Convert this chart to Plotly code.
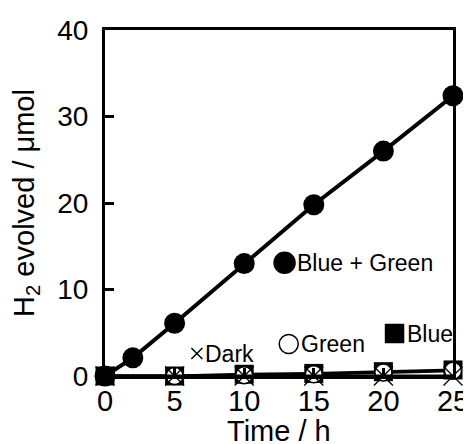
import plotly.graph_objects as go

time_h = [0, 5, 10, 15, 20, 25]
time_bg = [0, 2, 5, 10, 15, 20, 25]
h2_blue_green = [0, 2.1, 6.1, 13.0, 19.8, 26.0, 32.4]
h2_blue = [0, 0, 0.2, 0.3, 0.5, 0.7]
h2_green = [0, 0, 0.1, 0.2, 0.4, 0.6]
h2_dark = [0, 0, 0, 0, 0, 0]

x_ticks = [0, 5, 10, 15, 20, 25]
y_ticks = [0, 10, 20, 30, 40]

# legend keys (label positions in data units)
key_labels = ["Blue + Green", "Green", "Blue", "Dark"]
key_x = [12.9, 13.2, 20.8, 6.6]
key_y = [13.1, 3.7, 4.9, 2.6]
key_symbols = ["circle", "circle", "square", "x-thin-open"]

FONT = "Liberation Sans, Arial, sans-serif"
fig = go.Figure()

fig.add_trace(go.Scatter(x=time_h, y=h2_blue, mode="lines+markers",
                         line=dict(color="black", width=3),
                         marker=dict(symbol="square", size=19, color="black"),
                         cliponaxis=False, showlegend=False))
fig.add_trace(go.Scatter(x=time_h, y=h2_green, mode="lines+markers",
                         line=dict(color="black", width=3),
                         marker=dict(symbol="circle", size=17, color="white",
                                     line=dict(color="black", width=1.5)),
                         cliponaxis=False, showlegend=False))
fig.add_trace(go.Scatter(x=time_h, y=h2_dark, mode="lines+markers",
                         line=dict(color="black", width=3),
                         marker=dict(symbol="x-thin-open", size=19,
                                     line=dict(color="black", width=1.3)),
                         cliponaxis=False, showlegend=False))
fig.add_trace(go.Scatter(x=time_bg, y=h2_blue_green, mode="lines+markers",
                         line=dict(color="black", width=4),
                         marker=dict(symbol="circle", size=21, color="black"),
                         cliponaxis=False, showlegend=False))

# key markers
key_marker_colors = ["black", "white", "black", "black"]
key_sizes = [21, 19, 18, 11]
for lab, kx, ky, ks, kc, kz in zip(key_labels, key_x, key_y, key_symbols,
                                   key_marker_colors, key_sizes):
    fig.add_trace(go.Scatter(x=[kx], y=[ky], mode="markers",
                             marker=dict(symbol=ks, size=kz, color=kc,
                                         line=dict(color="black", width=1.5)),
                             cliponaxis=False, showlegend=False, hoverinfo="skip"))
    fig.add_annotation(x=kx, y=ky, text=lab, showarrow=False, xanchor="left",
                       yanchor="middle", xshift=10 if ks != "x-thin-open" else 6,
                       font=dict(family=FONT, size=23, color="black"))

fig.update_xaxes(range=[0, 25], tickvals=x_ticks, showline=True, linewidth=3,
                 linecolor="black", mirror=True, ticks="inside", ticklen=8,
                 tickwidth=3, tickcolor="black", showgrid=False, zeroline=False,
                 tickfont=dict(family=FONT, size=29, color="black"),
                 ticklabelstandoff=-3, automargin=False)
fig.update_yaxes(range=[0, 40], tickvals=y_ticks, showline=True, linewidth=3,
                 linecolor="black", mirror=True, ticks="inside", ticklen=9,
                 tickwidth=3, tickcolor="black", showgrid=False, zeroline=False,
                 tickfont=dict(family=FONT, size=28, color="black"),
                 ticklabelstandoff=8, automargin=False,
                 title=dict(text="H<sub>2</sub> evolved / μmol", standoff=17,
                            font=dict(family=FONT, size=29, color="black")))

fig.add_annotation(text="Time / h", x=0.5, xref="paper", y=0, yref="paper",
                   xanchor="center", yanchor="top", yshift=-37, showarrow=False,
                   font=dict(family=FONT, size=29, color="black"))

# page has an 8px body margin, so the figure is sized to fit the 471x444 window
fig.update_layout(width=463, height=436, plot_bgcolor="white", paper_bgcolor="white",
                  margin=dict(l=97, r=18, t=22, b=68))
fig.write_html("out.html")
